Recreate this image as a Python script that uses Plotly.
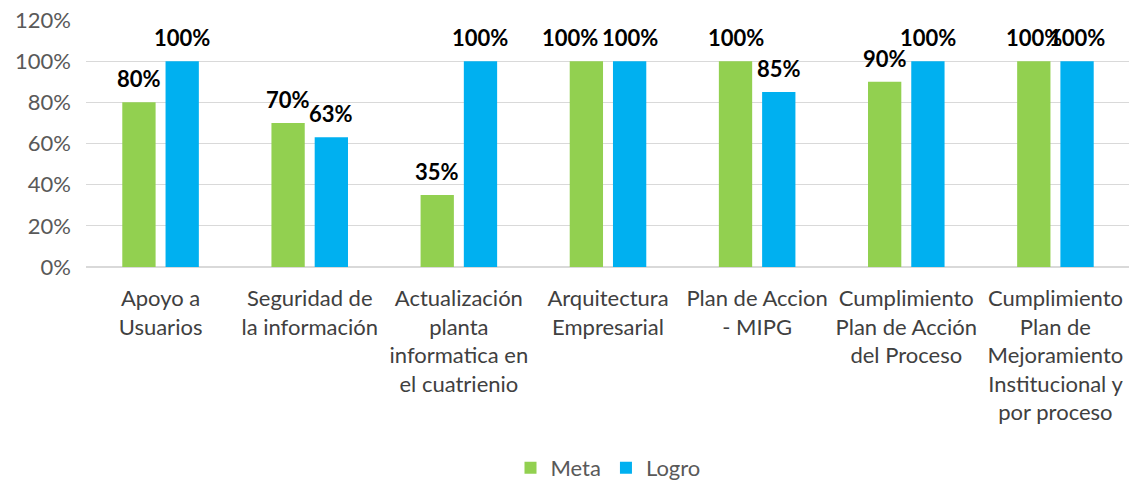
import plotly.graph_objects as go

categories = [
    "Apoyo a<br>Usuarios",
    "Seguridad de<br>la información",
    "Actualización<br>planta<br>informatica en<br>el cuatrienio",
    "Arquitectura<br>Empresarial",
    "Plan de Accion<br>- MIPG",
    "Cumplimiento<br>Plan de Acción<br>del Proceso",
    "Cumplimiento<br>Plan de<br>Mejoramiento<br>Institucional y<br>por proceso",
]
meta = [0.80, 0.70, 0.35, 1.00, 1.00, 0.90, 1.00]
logro = [1.00, 0.63, 1.00, 1.00, 0.85, 1.00, 1.00]

GREEN = "#92D050"
BLUE = "#00B0F0"
FONT = "Lato, Carlito, Calibri, sans-serif"

fig = go.Figure()
fig.add_trace(go.Bar(name="Meta", x=categories, y=meta, marker_color=GREEN, marker_line_width=0))
fig.add_trace(go.Bar(name="Logro", x=categories, y=logro, marker_color=BLUE, marker_line_width=0))

# label nudges (pixels) to mimic the original label placement
nudge = {("Meta", 3): -17}

annotations = []
for name, series, shift in (("Meta", meta, -21.5), ("Logro", logro, 21.5)):
    for i, (c, v) in enumerate(zip(categories, series)):
        annotations.append(dict(
            x=c, y=v, xref="x", yref="y", text="<b>%d%%</b>" % round(v * 100),
            showarrow=False, xshift=shift + nudge.get((name, i), 0), yshift=8,
            yanchor="bottom",
            font=dict(family=FONT, size=22, color="#000000"),
        ))

fig.update_layout(
    width=1129, height=473,
    margin=dict(l=78, r=7, t=12, b=214, autoexpand=False),
    paper_bgcolor="white", plot_bgcolor="white",
    barmode="group", bargap=0.42, bargroupgap=0.23,
    font=dict(family=FONT, size=22, color="#595959"),
    showlegend=True,
    legend=dict(orientation="h", x=0.5, xanchor="center", y=-0.814, yanchor="middle",
                font=dict(family=FONT, size=22, color="#595959"), traceorder="normal",
                itemwidth=30),
    annotations=annotations,
)
fig.update_yaxes(range=[0, 1.2], dtick=0.2, tickformat=".0%", showgrid=True,
                 gridcolor="#D9D9D9", gridwidth=1, zeroline=True, zerolinecolor="#D9D9D9",
                 showline=False, ticklabelstandoff=14, automargin=False,
                 ticklabeloverflow="allow",
                 tickfont=dict(family=FONT, size=22, color="#595959"))
fig.update_xaxes(showline=False, ticks="", tickangle=0, automargin=False,
                 ticklabelstandoff=16, ticklabeloverflow="allow",
                 tickfont=dict(family=FONT, size=22, color="#404040"))

fig.write_html("out.html")
